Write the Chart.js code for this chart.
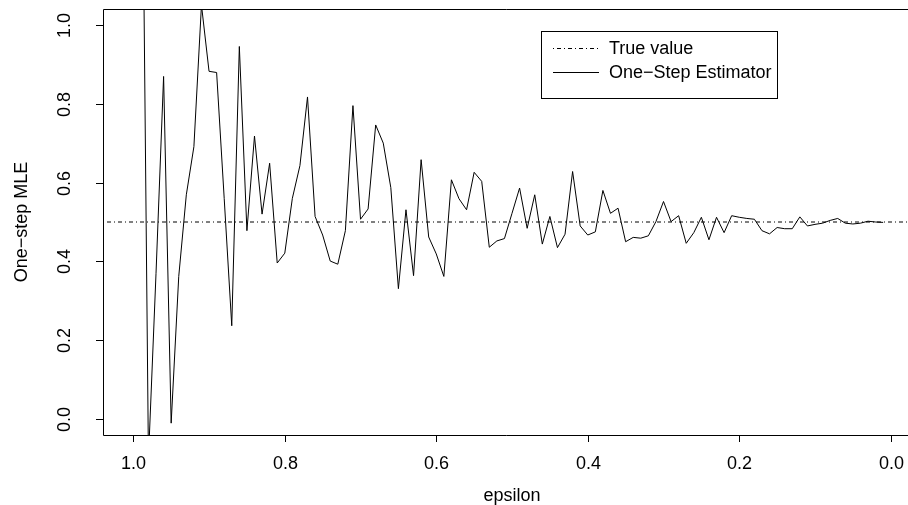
<!DOCTYPE html>
<html>
<head>
<meta charset="utf-8">
<script src="https://cdn.jsdelivr.net/npm/chart.js@4.4.0/dist/chart.umd.min.js"></script>
<style>
  html, body { margin: 0; padding: 0; background: #fff; }
  #wrap { width: 908px; height: 505px; }
</style>
</head>
<body>
<div id="wrap"><canvas id="chart" width="908" height="505"></canvas></div>
<script>
// epsilon grid (plotted right-to-left) and the one-step estimates
var epsilon = [
  0.99, 0.98, 0.97, 0.96, 0.95, 0.94, 0.93, 0.92, 0.91, 0.90,
  0.89, 0.88, 0.87, 0.86, 0.85, 0.84, 0.83, 0.82, 0.81, 0.80,
  0.79, 0.78, 0.77, 0.76, 0.75, 0.74, 0.73, 0.72, 0.71, 0.70,
  0.69, 0.68, 0.67, 0.66, 0.65, 0.64, 0.63, 0.62, 0.61, 0.60,
  0.59, 0.58, 0.57, 0.56, 0.55, 0.54, 0.53, 0.52, 0.51, 0.50,
  0.49, 0.48, 0.47, 0.46, 0.45, 0.44, 0.43, 0.42, 0.41, 0.40,
  0.39, 0.38, 0.37, 0.36, 0.35, 0.34, 0.33, 0.32, 0.31, 0.30,
  0.29, 0.28, 0.27, 0.26, 0.25, 0.24, 0.23, 0.22, 0.21, 0.20,
  0.19, 0.18, 0.17, 0.16, 0.15, 0.14, 0.13, 0.12, 0.11, 0.10,
  0.09, 0.08, 0.07, 0.06, 0.05, 0.04, 0.03, 0.02, 0.01
];
var oneStep = [
  1.870, -0.100, 0.370, 0.869, -0.010, 0.362, 0.569, 0.691, 1.050, 0.882,
  0.879, 0.560, 0.237, 0.945, 0.478, 0.718, 0.520, 0.649, 0.396, 0.421,
  0.560, 0.643, 0.817, 0.514, 0.467, 0.401, 0.393, 0.478, 0.795, 0.507,
  0.533, 0.746, 0.700, 0.587, 0.331, 0.531, 0.364, 0.658, 0.462, 0.419,
  0.362, 0.607, 0.559, 0.531, 0.626, 0.603, 0.436, 0.452, 0.458, 0.522,
  0.586, 0.484, 0.569, 0.444, 0.514, 0.435, 0.469, 0.628, 0.490, 0.467,
  0.475, 0.580, 0.522, 0.535, 0.450, 0.461, 0.459, 0.465, 0.501, 0.552,
  0.501, 0.516, 0.446, 0.473, 0.512, 0.455, 0.512, 0.473, 0.516, 0.512,
  0.509, 0.507, 0.478, 0.470, 0.486, 0.483, 0.483, 0.513, 0.490, 0.494,
  0.497, 0.504, 0.509, 0.497, 0.495, 0.497, 0.502, 0.500, 0.499
];
var trueValue = 0.5;

var xTicks = [1.0, 0.8, 0.6, 0.4, 0.2, 0.0];
var yTicks = [0.0, 0.2, 0.4, 0.6, 0.8, 1.0];
var xLimits = [-0.0228, 1.04];
var yLimits = [-0.04, 1.04];

var legendLabels = ['True value', 'One\u2212Step Estimator'];
var xTitle = 'epsilon';
var yTitle = 'One\u2212step MLE';

var FONT = '"Liberation Sans", Arial, Helvetica, sans-serif';

// axes, box, labels and legend drawn R-style on top of the chart
var rAxes = {
  id: 'rAxes',
  afterDraw: function (chart) {
    var ctx = chart.ctx;
    var ca = chart.chartArea;
    var xs = chart.scales.x;
    var ys = chart.scales.y;
    ctx.save();
    ctx.strokeStyle = '#000';
    ctx.fillStyle = '#000';
    ctx.lineWidth = 1;
    ctx.setLineDash([]);

    // plot box (right side falls outside the picture)
    ctx.beginPath();
    ctx.moveTo(ca.right + 20, ca.top + 0.5);
    ctx.lineTo(ca.left + 0.5, ca.top + 0.5);
    ctx.lineTo(ca.left + 0.5, ca.bottom + 0.5);
    ctx.lineTo(ca.right + 20, ca.bottom + 0.5);
    ctx.stroke();

    ctx.font = '18px ' + FONT;
    ctx.textAlign = 'center';
    ctx.textBaseline = 'middle';

    // x ticks
    xTicks.forEach(function (t) {
      var px = Math.round(xs.getPixelForValue(t)) + 0.5;
      ctx.beginPath();
      ctx.moveTo(px, ca.bottom);
      ctx.lineTo(px, ca.bottom + 7);
      ctx.stroke();
      ctx.fillText(t.toFixed(1), px, ca.bottom + 29);
    });

    // y ticks, labels turned like R's default
    yTicks.forEach(function (t) {
      var py = Math.round(ys.getPixelForValue(t)) + 0.5;
      ctx.beginPath();
      ctx.moveTo(ca.left - 7, py);
      ctx.lineTo(ca.left, py);
      ctx.stroke();
      ctx.save();
      ctx.translate(ca.left - 38, py);
      ctx.rotate(-Math.PI / 2);
      ctx.fillText(t.toFixed(1), 0, 0);
      ctx.restore();
    });

    // axis titles
    ctx.fillText(xTitle, xs.getPixelForValue(0.5), ca.bottom + 61);
    ctx.save();
    ctx.translate(22, (ca.top + ca.bottom) / 2);
    ctx.rotate(-Math.PI / 2);
    ctx.fillText(yTitle, 0, 0);
    ctx.restore();

    // legend box
    var lx = 541, ly = 31, lw = 236, lh = 67;
    ctx.fillStyle = '#fff';
    ctx.fillRect(lx, ly, lw, lh);
    ctx.strokeRect(lx + 0.5, ly + 0.5, lw, lh);
    ctx.fillStyle = '#000';
    ctx.textAlign = 'left';
    var rows = [ly + 17, ly + 41];
    var dashes = [[1, 3, 4, 3], []];
    rows.forEach(function (ry, i) {
      ctx.setLineDash(dashes[i]);
      ctx.beginPath();
      ctx.moveTo(lx + 12, ry + 0.5);
      ctx.lineTo(lx + 58, ry + 0.5);
      ctx.stroke();
      ctx.setLineDash([]);
      ctx.fillText(legendLabels[i], lx + 68, ry + 1);
    });
    ctx.restore();
  }
};

new Chart(document.getElementById('chart'), {
  type: 'line',
  data: {
    datasets: [
      {
        label: legendLabels[0],
        data: [{ x: xLimits[1], y: trueValue }, { x: xLimits[0], y: trueValue }],
        borderColor: '#000',
        borderWidth: 1,
        borderDash: [1, 3, 4, 3],
        pointRadius: 0,
        tension: 0
      },
      {
        label: legendLabels[1],
        data: epsilon.map(function (e, i) { return { x: e, y: oneStep[i] }; }),
        borderColor: '#000',
        borderWidth: 1,
        pointRadius: 0,
        tension: 0
      }
    ]
  },
  options: {
    responsive: false,
    animation: false,
    layout: { padding: { left: 103, top: 9, right: 0, bottom: 70 } },
    scales: {
      x: { type: 'linear', display: false, reverse: true, min: xLimits[0], max: xLimits[1] },
      y: { type: 'linear', display: false, min: yLimits[0], max: yLimits[1] }
    },
    plugins: { legend: { display: false }, tooltip: { enabled: false } }
  },
  plugins: [rAxes]
});
</script>
</body>
</html>
